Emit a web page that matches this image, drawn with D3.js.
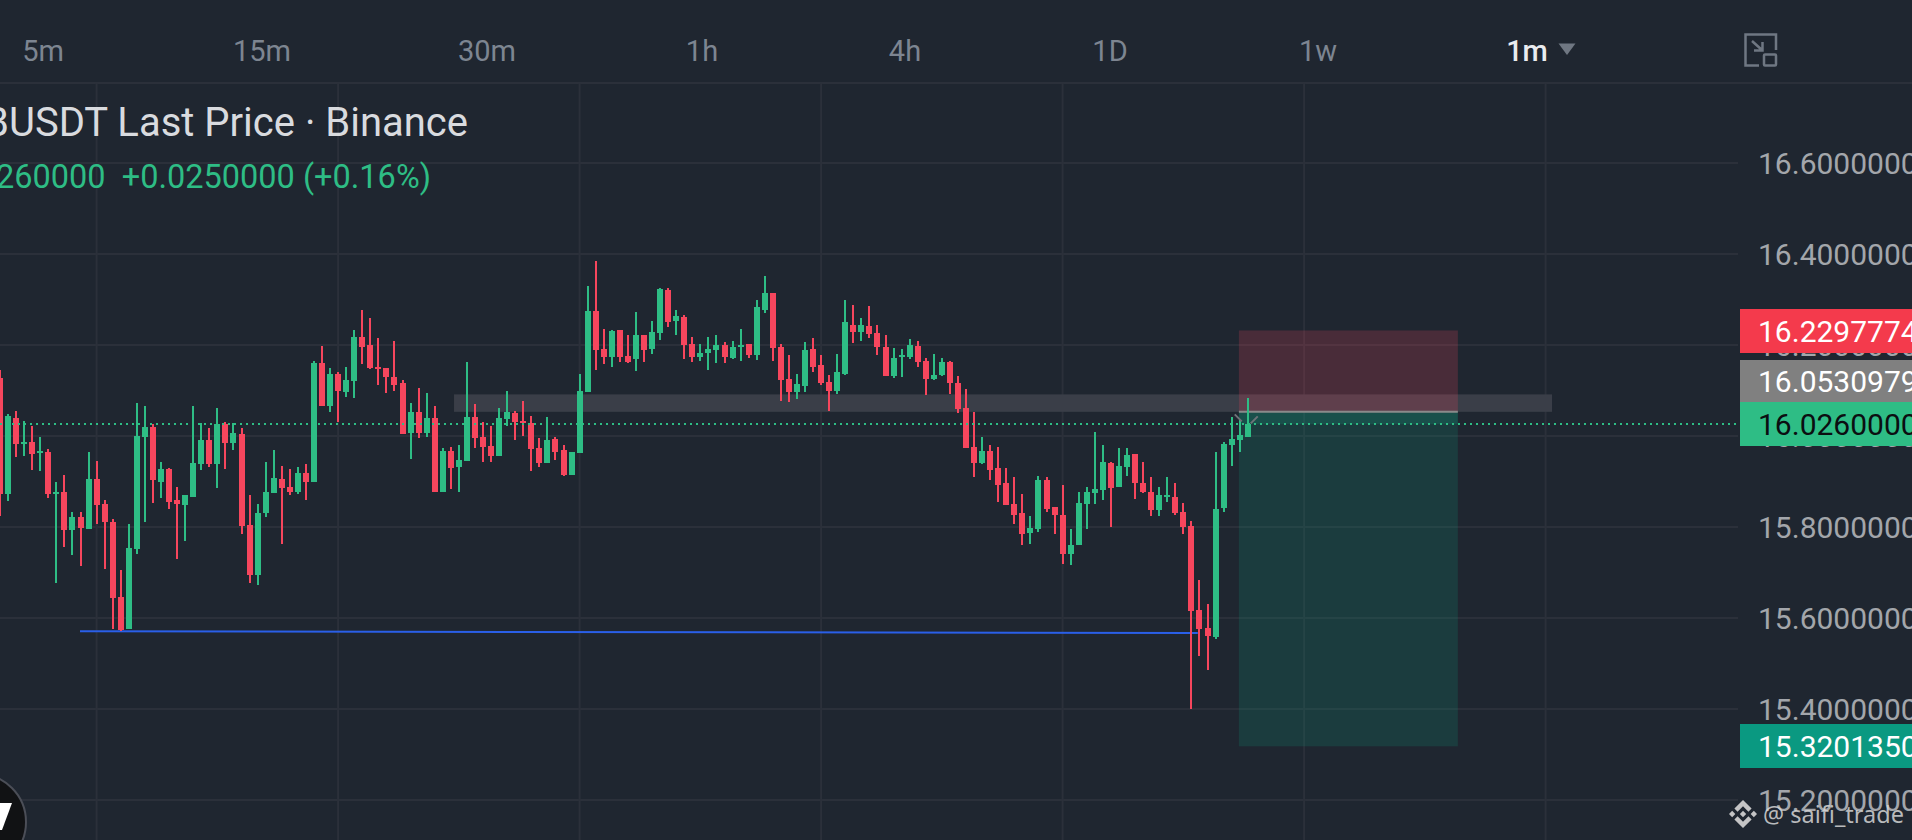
<!DOCTYPE html>
<html>
<head>
<meta charset="utf-8">
<script src="https://cdn.jsdelivr.net/npm/d3@7/dist/d3.min.js"></script>
<style>
html,body{margin:0;padding:0;background:#1f2630;overflow:hidden}
svg{display:block}
text{font-family:Roboto,sans-serif;white-space:pre}
</style>
</head>
<body>
<svg id="chart" width="1912" height="840"></svg>
<script>
const intervals = ["5m","15m","30m","1h","4h","1D","1w","1m"];
const priceTicks = [16.6,16.4,16.2,16.0,15.8,15.6,15.4,15.2];
const timeGridIndex = [12,42,72,102,132,162,192];

const highs = [
16.144,16.049,16.054,16.032,16.021,15.997,15.971,15.900,15.914,15.834,
15.832,15.964,15.944,15.859,15.817,15.705,15.807,16.072,16.065,16.027,
15.942,15.929,15.887,15.870,16.065,16.028,16.017,16.061,16.030,16.028,
16.017,15.870,15.850,15.942,15.969,15.933,15.927,15.931,15.938,16.164,
16.197,16.149,16.140,16.151,16.232,16.276,16.259,16.215,16.149,16.208,
16.122,16.072,16.105,16.094,16.067,15.973,15.975,15.980,16.162,16.070,
16.030,16.023,16.061,16.098,16.054,16.078,16.043,15.995,16.041,15.997,
15.980,15.964,16.136,16.329,16.384,16.235,16.232,16.232,16.221,16.272,
16.223,16.252,16.325,16.325,16.278,16.265,16.217,16.202,16.217,16.223,
16.206,16.208,16.235,16.202,16.300,16.351,16.314,16.202,16.177,16.136,
16.206,16.215,16.177,16.133,16.180,16.298,16.287,16.259,16.285,16.245,
16.221,16.193,16.191,16.213,16.208,16.171,16.180,16.171,16.164,16.131,
16.103,16.052,15.997,15.980,15.975,15.929,15.909,15.872,15.824,15.911,
15.909,15.843,15.892,15.795,15.876,15.889,16.008,15.980,15.942,15.973,
15.973,15.960,15.942,15.909,15.889,15.909,15.896,15.852,15.813,15.683,
15.630,15.964,15.986,16.041,16.035,16.083];

const lows = [
15.824,15.857,15.953,15.955,15.925,15.922,15.863,15.678,15.755,15.738,
15.714,15.795,15.806,15.707,15.575,15.571,15.575,15.740,15.810,15.852,
15.863,15.839,15.729,15.769,15.867,15.925,15.931,15.885,15.927,15.969,
15.784,15.676,15.672,15.823,15.874,15.762,15.870,15.872,15.859,15.898,
16.067,16.052,16.030,16.085,16.083,16.158,16.147,16.111,16.094,16.100,
16.004,15.949,15.995,15.997,15.878,15.878,15.883,15.876,15.944,15.973,
15.942,15.942,15.955,16.021,15.991,15.999,15.922,15.931,15.940,15.947,
15.911,15.914,15.962,16.096,16.144,16.158,16.151,16.162,16.160,16.142,
16.162,16.180,16.210,16.239,16.223,16.169,16.162,16.164,16.144,16.160,
16.160,16.169,16.164,16.171,16.166,16.270,16.164,16.076,16.074,16.081,
16.096,16.140,16.111,16.054,16.092,16.133,16.204,16.208,16.215,16.177,
16.131,16.127,16.129,16.169,16.151,16.090,16.122,16.131,16.092,16.050,
15.973,15.909,15.938,15.903,15.854,15.848,15.806,15.760,15.762,15.788,
15.834,15.784,15.718,15.716,15.760,15.795,15.850,15.859,15.799,15.887,
15.911,15.861,15.874,15.824,15.824,15.854,15.826,15.784,15.399,15.516,
15.485,15.553,15.832,15.933,15.964,15.997];

const opens = [
16.127,15.872,16.039,15.985,15.986,15.963,15.964,15.875,15.876,15.793,
15.823,15.795,15.905,15.850,15.810,15.646,15.575,15.751,15.997,16.019,
15.900,15.927,15.859,15.848,15.867,15.938,15.991,15.938,16.026,15.984,
16.004,15.804,15.694,15.830,15.874,15.905,15.887,15.876,15.918,15.898,
16.160,16.067,16.136,16.096,16.120,16.217,16.199,16.152,16.149,16.129,
16.116,16.006,16.052,16.006,16.039,15.878,15.966,15.931,15.944,16.041,
15.997,15.977,15.955,16.037,16.050,16.034,16.028,15.973,15.940,15.993,
15.969,15.914,15.962,16.096,16.274,16.191,16.173,16.232,16.175,16.169,
16.223,16.191,16.226,16.320,16.252,16.261,16.202,16.173,16.182,16.188,
16.199,16.171,16.197,16.202,16.177,16.278,16.314,16.195,16.125,16.096,
16.109,16.191,16.155,16.118,16.100,16.136,16.245,16.228,16.241,16.226,
16.195,16.131,16.174,16.173,16.197,16.164,16.125,16.133,16.162,16.116,
16.061,15.975,15.940,15.966,15.929,15.896,15.850,15.830,15.786,15.795,
15.903,15.843,15.826,15.740,15.760,15.850,15.874,15.881,15.940,15.887,
15.931,15.960,15.896,15.878,15.837,15.866,15.867,15.832,15.802,15.617,
15.577,15.558,15.841,15.980,15.991,15.997];

const closes = [
15.872,16.043,15.982,15.987,15.960,15.966,15.872,15.878,15.793,15.823,
15.797,15.905,15.848,15.810,15.643,15.573,15.753,15.999,16.019,15.903,
15.927,15.854,15.850,15.870,15.940,15.991,15.938,16.026,15.984,16.006,
15.802,15.694,15.830,15.876,15.907,15.885,15.876,15.918,15.900,16.160,
16.067,16.136,16.098,16.122,16.217,16.195,16.149,16.150,16.129,16.111,
16.004,16.052,16.006,16.039,15.878,15.966,15.929,15.947,16.041,15.995,
15.975,15.955,16.039,16.052,16.030,16.030,15.971,15.940,15.991,15.964,
15.914,15.964,16.098,16.274,16.188,16.173,16.230,16.173,16.162,16.223,
16.188,16.228,16.322,16.250,16.263,16.199,16.173,16.182,16.191,16.199,
16.173,16.195,16.201,16.177,16.283,16.314,16.193,16.122,16.096,16.114,
16.188,16.151,16.116,16.098,16.140,16.250,16.228,16.243,16.224,16.195,
16.131,16.171,16.177,16.199,16.162,16.125,16.133,16.162,16.116,16.059,
15.973,15.940,15.966,15.925,15.892,15.848,15.826,15.784,15.797,15.903,
15.839,15.826,15.740,15.760,15.852,15.876,15.883,15.942,15.885,15.933,
15.958,15.896,15.876,15.837,15.870,15.870,15.830,15.799,15.615,15.575,
15.560,15.839,15.982,15.993,16.002,16.026];

const lastPrice = 16.026, entryPrice = 16.0530979, stopPrice = 16.2297774, targetPrice = 15.320135;
const zoneTop = 16.0915;
const supportStart = 15.571, supportEnd = 15.567;
const titleText = "BUSDT Last Price \u00b7 Binance";
const changeText = "16.0260000  +0.0250000 (+0.16%)";

const GREEN = "#2ebd85", RED = "#f6465d", GRID = "#2b303a", AXIS = "#a3a6ab";

const svg = d3.select("#chart");
const y = d3.scaleLinear().domain([16.6, 15.2]).range([163, 800]);
const x = d3.scaleLinear().domain([0, 192]).range([0, 1545.6]);
const PLOT_R = 1738;

// interval tabs
const tabX = d3.scaleOrdinal().domain(intervals).range([43,262,487,702,905,1110,1318,1527]);
svg.append("g").selectAll("text").data(intervals).join("text")
  .attr("x", d => tabX(d)).attr("y", 61)
  .attr("text-anchor", "middle").attr("font-size", 29)
  .attr("font-weight", d => d === "1m" ? 500 : 400)
  .attr("fill", d => d === "1m" ? "#eaecef" : "#7d8591")
  .text(d => d);
svg.append("path").attr("d", "M1558.5,43.5H1575.5L1567,55Z").attr("fill", "#6f7782");

// expand icon
svg.append("path").attr("fill", "none").attr("stroke", "#6f7782").attr("stroke-width", 2.5)
  .attr("d", "M1759,65.5H1745.5V34.5H1776V50 M1752,41L1762,50 M1762.5,42V50.5H1754");
svg.append("rect").attr("x", 1764).attr("y", 54.5).attr("width", 12).attr("height", 11)
  .attr("rx", 1).attr("fill", "none").attr("stroke", "#6f7782").attr("stroke-width", 2.5);

// grid
svg.append("line").attr("x1", 0).attr("x2", 1912).attr("y1", 83).attr("y2", 83)
  .attr("stroke", GRID).attr("stroke-width", 2);
svg.append("g").selectAll("line").data(priceTicks).join("line")
  .attr("x1", 0).attr("x2", PLOT_R).attr("y1", d => y(d)).attr("y2", d => y(d))
  .attr("stroke", GRID).attr("stroke-width", 2);
svg.append("g").selectAll("line").data(timeGridIndex).join("line")
  .attr("x1", d => x(d)).attr("x2", d => x(d)).attr("y1", 83).attr("y2", 840)
  .attr("stroke", GRID).attr("stroke-width", 2);

// price axis
const axis = d3.axisRight(y).tickValues(priceTicks).tickSize(0).tickPadding(0)
  .tickFormat(d => d.toFixed(7));
const axG = svg.append("g").attr("transform", "translate(1758,0)").call(axis);
axG.select(".domain").remove();
axG.selectAll("text").attr("font-size", 30).attr("fill", AXIS)
  .style("font-family", "Roboto,sans-serif").attr("dy", "0.36em");

// title
svg.append("text").attr("x", 468).attr("y", 136).attr("text-anchor", "end")
  .attr("font-size", 40).attr("fill", "#d9dbdf").text(titleText);
svg.append("text").attr("x", 431).attr("y", 188).attr("text-anchor", "end")
  .attr("font-size", 32.5).attr("fill", GREEN).text(changeText);

// resistance zone
const zoneL = x(56.4), zoneR = x(192.8);
svg.append("rect").attr("x", zoneL).attr("width", zoneR - zoneL)
  .attr("y", y(zoneTop)).attr("height", y(entryPrice) - y(zoneTop)).attr("fill", "#3a3e48");

// position box
const boxL = x(153.9), boxR = x(181.1);
svg.append("rect").attr("x", boxL).attr("width", boxR - boxL)
  .attr("y", y(stopPrice) - 1).attr("height", y(entryPrice) - y(stopPrice) + 1)
  .attr("fill", "rgba(246,70,93,.2)");
svg.append("rect").attr("x", boxL).attr("width", boxR - boxL)
  .attr("y", y(entryPrice)).attr("height", y(targetPrice) - y(entryPrice) + 1)
  .attr("fill", "rgba(10,160,130,.18)");
svg.append("rect").attr("x", boxL).attr("width", boxR - boxL)
  .attr("y", y(entryPrice)).attr("height", y(lastPrice) - y(entryPrice))
  .attr("fill", "rgba(20,160,130,.2)");
svg.append("line").attr("x1", boxL).attr("x2", boxR).attr("y1", y(entryPrice)).attr("y2", y(entryPrice))
  .attr("stroke", "#8b8b8b").attr("stroke-width", 2);

// support line
svg.append("line").attr("x1", x(9.94)).attr("x2", x(148.8))
  .attr("y1", y(supportStart)).attr("y2", y(supportEnd))
  .attr("stroke", "#2a5fe8").attr("stroke-width", 2);

// candles
const candles = d3.range(highs.length).map(i => ({i, h: highs[i], l: lows[i], o: opens[i], c: closes[i]}));
const cg = svg.append("g").attr("shape-rendering", "crispEdges");
const color = d => d.c >= d.o ? GREEN : RED;
cg.selectAll("line").data(candles).join("line")
  .attr("x1", d => x(d.i)).attr("x2", d => x(d.i))
  .attr("y1", d => y(d.h)).attr("y2", d => y(d.l))
  .attr("stroke", color).attr("stroke-width", 2);
cg.selectAll("rect").data(candles).join("rect")
  .attr("x", d => x(d.i) - 3).attr("width", 6)
  .attr("y", d => y(Math.max(d.o, d.c)))
  .attr("height", d => Math.max(2, Math.abs(y(d.o) - y(d.c))))
  .attr("fill", color);

// last price dotted line
svg.append("line").attr("x1", 0).attr("x2", PLOT_R).attr("y1", y(lastPrice)).attr("y2", y(lastPrice))
  .attr("stroke", GREEN).attr("stroke-width", 2).attr("stroke-dasharray", "2 4").attr("shape-rendering", "crispEdges");

// entry chevrons at the last candle
const lastX = x(155), lastY = y(zoneTop) + 20;
svg.append("path").attr("fill", "none").attr("stroke", "#6e7378").attr("stroke-width", 2)
  .attr("d", `M${lastX - 13},${lastY + 0}L${lastX - 6},${lastY + 7} M${lastX + 10},${lastY + 2}L${lastX + 3},${lastY + 9}`);

// price labels
const priceLabels = [
  {v: stopPrice, t: "16.2297774", fill: "#f43a4c", ink: "#fff", top: 309, bot: 353},
  {v: entryPrice, t: "16.0530979", fill: "#808080", ink: "#fff", top: 360, bot: 402},
  {v: lastPrice, t: "16.0260000", fill: GREEN, ink: "#0b0e11", top: 402, bot: 446},
  {v: targetPrice, t: "15.3201350", fill: "#0a9981", ink: "#fff", top: 724, bot: 768}
];
const lg = svg.append("g").selectAll("g").data(priceLabels).join("g");
lg.append("rect").attr("x", 1740).attr("width", 172)
  .attr("y", d => d.top).attr("height", d => d.bot - d.top).attr("fill", d => d.fill);
lg.append("text").attr("x", 1758).attr("y", d => (d.top + d.bot) / 2 + 11)
  .attr("font-size", 30).attr("fill", d => d.ink).text(d => d.t);

// watermark
svg.append("path").attr("transform", "translate(1729,800) scale(0.2212)")
  .attr("fill", "#d6d6d6").attr("fill-opacity", .9)
  .attr("d", "M38.73,53.2l24.59-24.58,24.6,24.6,14.3-14.31L63.32,0,24.43,38.89Z M0,63.31l14.3-14.31,14.31,14.31L14.3,77.61Z M38.73,73.41,63.32,98l24.6-24.6,14.31,14.29h0L63.32,126.61,24.43,87.72l-.02-.02Z M98,63.31l14.3-14.3,14.31,14.3-14.31,14.3Z M77.83,63.3h0L63.32,48.78,52.59,59.51l-1.23,1.23-2.54,2.54,0,0,0,0,14.5,14.5L77.83,63.31Z");
svg.append("text").attr("x", 1763).attr("y", 823).attr("font-size", 23.5)
  .attr("fill", "#d6d6d6").attr("fill-opacity", .85)
  .style("font-family", "'Noto Sans',sans-serif").text("@ saifi_trade");

// logo badge
svg.append("circle").attr("cx", -22).attr("cy", 822).attr("r", 48)
  .attr("fill", "#111214").attr("stroke", "#4b4e57").attr("stroke-width", 2);
svg.append("path").attr("d", "M0,803H12L2,830H0Z").attr("fill", "#fff");
</script>
</body>
</html>
